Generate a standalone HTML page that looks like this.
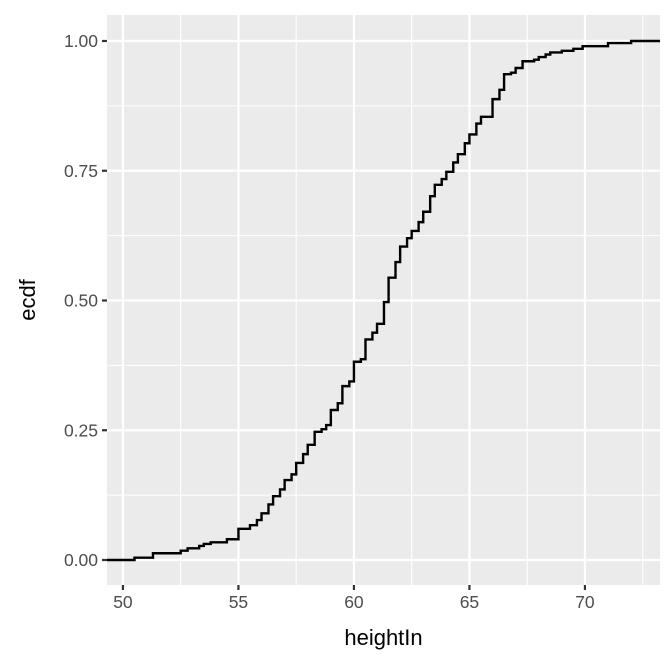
<!DOCTYPE html>
<html><head><meta charset="utf-8"><style>
html,body{margin:0;padding:0;background:#fff;}
svg{display:block;font-family:"Liberation Sans",sans-serif;}
</style></head><body>
<svg id="chart" width="672" height="672" viewBox="0 0 672 672" xmlns="http://www.w3.org/2000/svg"></svg>
<script>
const xValues=[50.5,51.3,52.5,52.8,53.3,53.5,53.8,54.5,55.0,55.5,55.8,56.0,56.3,56.5,56.8,57.0,57.3,57.5,57.8,58.0,58.3,58.6,58.8,59.0,59.3,59.5,59.8,60.0,60.3,60.5,60.8,61.0,61.3,61.5,61.8,62.0,62.3,62.5,62.8,63.0,63.3,63.5,63.8,64.0,64.3,64.5,64.8,65.0,65.3,65.5,66.0,66.3,66.5,66.8,67.0,67.3,67.8,68.0,68.3,68.5,69.0,69.5,69.9,71.0,72.0];
const ecdfValues=[0.0045,0.013,0.018,0.0225,0.027,0.031,0.034,0.040,0.060,0.067,0.077,0.090,0.107,0.123,0.136,0.154,0.165,0.187,0.204,0.222,0.247,0.252,0.260,0.289,0.302,0.335,0.344,0.382,0.387,0.425,0.438,0.455,0.497,0.544,0.574,0.604,0.620,0.634,0.651,0.671,0.701,0.723,0.734,0.748,0.766,0.782,0.803,0.820,0.841,0.854,0.888,0.906,0.936,0.939,0.948,0.961,0.964,0.969,0.974,0.978,0.981,0.985,0.990,0.996,1.0];
const xTicks=[50,55,60,65,70];
const xTickLabels=["50","55","60","65","70"];
const yTicks=[0,0.25,0.5,0.75,1];
const yTickLabels=["0.00","0.25","0.50","0.75","1.00"];
const xMinor=[52.5,57.5,62.5,67.5,72.5];
const yMinor=[0.125,0.375,0.625,0.875];

const NS="http://www.w3.org/2000/svg";
const svg=document.getElementById('chart');
const P={l:107,r:660,t:15,b:585};
const xDom=[49.31,73.25];
const sx=v=>P.l+(v-xDom[0])/(xDom[1]-xDom[0])*(P.r-P.l);
const sy=v=>560-v*519;
function mk(tag,attrs){const e=document.createElementNS(NS,tag);for(const k in attrs)e.setAttribute(k,attrs[k]);svg.appendChild(e);return e;}

const bg=mk('rect',{x:P.l,y:P.t,width:P.r-P.l,height:P.b-P.t,fill:'#ebebeb'});



xMinor.forEach(v=>{if(sx(v)>P.r)return;const g=mk('line',{x1:sx(v),x2:sx(v),y1:P.t,y2:P.b,stroke:'#fff','stroke-width':1.1});

});
yMinor.forEach(v=>{const g=mk('line',{x1:P.l,x2:P.r,y1:sy(v),y2:sy(v),stroke:'#fff','stroke-width':1.1});

});
xTicks.forEach((v,i)=>{const g=mk('line',{x1:sx(v),x2:sx(v),y1:P.t,y2:P.b,stroke:'#fff','stroke-width':2.2});


const t=mk('line',{x1:sx(v),x2:sx(v),y1:P.b,y2:P.b+5,stroke:'#333','stroke-width':2.2});


const l=mk('text',{x:sx(v),y:P.b+23,'text-anchor':'middle','font-size':17.5,fill:'#4d4d4d'});l.textContent=xTickLabels[i];

});
yTicks.forEach((v,i)=>{const g=mk('line',{x1:P.l,x2:P.r,y1:sy(v),y2:sy(v),stroke:'#fff','stroke-width':2.2});


const t=mk('line',{x1:P.l-5,x2:P.l,y1:sy(v),y2:sy(v),stroke:'#333','stroke-width':2.2});


const l=mk('text',{x:P.l-9,y:sy(v)+6,'text-anchor':'end','font-size':17.5,fill:'#4d4d4d'});l.textContent=yTickLabels[i];

});

let d='M'+P.l+','+sy(0);
let prev=0;
xValues.forEach((x,i)=>{d+=' L'+sx(x)+','+sy(prev)+' L'+sx(x)+','+sy(ecdfValues[i]);prev=ecdfValues[i];});
d+=' L'+P.r+','+sy(prev);
const line=mk('path',{d:d,fill:'none',stroke:'#000','stroke-width':2.4});



const xt=mk('text',{x:(P.l+P.r)/2,y:645,'text-anchor':'middle','font-size':22,fill:'#000'});xt.textContent='heightIn';


const yt=mk('text',{x:0,y:0,'text-anchor':'middle','font-size':22,fill:'#000',transform:'translate(35,300) rotate(-90)'});yt.textContent='ecdf';


</script>
</body></html>
